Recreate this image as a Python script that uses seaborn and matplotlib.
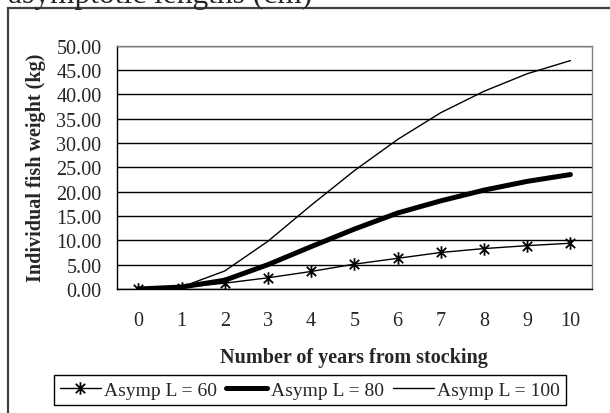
import matplotlib
matplotlib.use("Agg")
import matplotlib.pyplot as plt
from matplotlib.path import Path
from matplotlib.patches import Rectangle
from matplotlib.ticker import MultipleLocator, FixedLocator
import pandas as pd
import seaborn as sns

# data
years = [0, 1, 2, 3, 4, 5, 6, 7, 8, 9, 10]
weight_l60 = [0.0, 0.3, 1.2, 2.3, 3.6, 5.1, 6.3, 7.5, 8.3, 8.9, 9.4]
weight_l80 = [0.0, 0.4, 1.8, 5.0, 8.7, 12.3, 15.6, 18.1, 20.3, 22.1, 23.5]
weight_l100 = [0.0, 0.4, 3.7, 9.8, 17.2, 24.3, 30.7, 36.2, 40.6, 44.2, 46.9]
series_names = ["Asymp L = 60", "Asymp L = 80", "Asymp L = 100"]

df = pd.DataFrame({
    "year": years * 3,
    "weight": weight_l60 + weight_l80 + weight_l100,
    "series": [s for s in series_names for _ in years],
})

sns.set_style("white")
plt.rcParams["font.family"] = ["Liberation Serif", "DejaVu Serif"]
fs = 14.5

# excel-like star marker: vertical bar + x
star = Path([(0, -1), (0, 1), (-0.75, -0.75), (0.75, 0.75), (-0.75, 0.75), (0.75, -0.75)],
            [Path.MOVETO, Path.LINETO] * 3)

fig = plt.figure(figsize=(6.1, 4.14), dpi=100)
ax = fig.add_axes([116.7 / 610, 1 - 290 / 414, (592 - 116.7) / 610, (290 - 46.5) / 414])

styles = {
    "Asymp L = 60": dict(linewidth=1.0, marker=star, markersize=9,
                         markeredgecolor="black", markeredgewidth=1.3),
    "Asymp L = 80": dict(linewidth=3.6),
    "Asymp L = 100": dict(linewidth=1.0),
}
for name in series_names:
    sub = df[df["series"] == name]
    sns.lineplot(data=sub, x="year", y="weight", ax=ax, color="black",
                 label=name, legend=False, zorder=3, **styles[name])

ax.set_xlim(-0.5, 10.5)
ax.set_ylim(0, 50)
ax.yaxis.set_major_locator(MultipleLocator(5))
ax.set_yticklabels([f"{v:.2f}" for v in ax.get_yticks()])
ax.set_xticks(years)
ax.set_xticklabels([str(y) for y in years])
ax.xaxis.set_minor_locator(FixedLocator([y - 0.5 for y in years] + [10.5]))
ax.tick_params(axis="x", which="major", length=0, pad=16, labelsize=fs)
ax.tick_params(axis="x", which="minor", length=5, width=1, color="black", direction="out")
ax.tick_params(axis="y", length=5, width=1, color="black", direction="out", pad=6, labelsize=fs)
ax.yaxis.grid(True, color="black", linewidth=1)
ax.set_axisbelow(True)

for side in ["left", "bottom"]:
    ax.spines[side].set_color("black")
    ax.spines[side].set_linewidth(1)
for side in ["top", "right"]:
    ax.spines[side].set_color("#808080")
    ax.spines[side].set_linewidth(1)

ax.set_xlabel("Number of years from stocking", fontsize=fs, fontweight="bold", labelpad=12)
ax.set_ylabel("Individual fish weight (kg)", fontsize=fs, fontweight="bold", labelpad=7)

handles, labels = ax.get_legend_handles_labels()
leg = fig.legend(handles, labels, loc="center", bbox_to_anchor=(310 / 610, 1 - 391 / 414),
                 ncol=3, fontsize=14, frameon=True, fancybox=False, edgecolor="black",
                 framealpha=1, handlelength=2.1, handletextpad=0.2, columnspacing=0.45,
                 borderpad=0.3)
leg.get_frame().set_linewidth(1)

# outer chart frame (partially outside the picture)
fig.patches.append(Rectangle((8 / 610, -0.2), 1.2, 1 - 9 / 414 + 0.2, transform=fig.transFigure,
                             fill=False, edgecolor="#404040", linewidth=1.6))

# cut-off title at the very top
fig.text(8 / 610, 1 - 3.5 / 414, "asymptotic lengths (cm)", fontsize=22.7, va="baseline", ha="left")

fig.savefig("out.png", dpi=100)
